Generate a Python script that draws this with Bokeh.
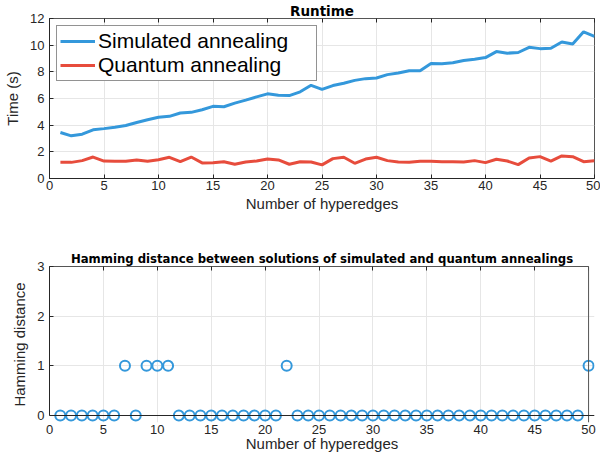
from bokeh.plotting import figure
from bokeh.models import Range1d, LinearAxis, Span, FixedTicker
from bokeh.layouts import column
from bokeh.embed import file_html
from bokeh.resources import INLINE

# ---------------- data ----------------
hyperedges = list(range(1, 51))
simulated = [3.45, 3.20, 3.32, 3.65, 3.74, 3.84, 3.97, 4.20, 4.41, 4.59,
             4.66, 4.91, 4.96, 5.16, 5.41, 5.38, 5.65, 5.88, 6.12, 6.35,
             6.25, 6.22, 6.50, 6.99, 6.69, 6.97, 7.14, 7.36, 7.49, 7.54,
             7.79, 7.91, 8.08, 8.08, 8.63, 8.60, 8.68, 8.85, 8.95, 9.07,
             9.52, 9.40, 9.45, 9.84, 9.74, 9.77, 10.24, 10.09, 11.00, 10.66]
quantum = [1.21, 1.21, 1.34, 1.61, 1.31, 1.29, 1.29, 1.39, 1.29, 1.41,
           1.59, 1.26, 1.61, 1.17, 1.19, 1.26, 1.07, 1.24, 1.31, 1.46,
           1.39, 1.07, 1.26, 1.24, 1.02, 1.49, 1.59, 1.14, 1.46, 1.59,
           1.34, 1.24, 1.21, 1.29, 1.29, 1.26, 1.26, 1.24, 1.34, 1.19,
           1.44, 1.31, 1.04, 1.54, 1.64, 1.31, 1.69, 1.64, 1.26, 1.34]
hamming = [0, 0, 0, 0, 0, 0, 1, 0, 1, 1,
           1, 0, 0, 0, 0, 0, 0, 0, 0, 0,
           0, 1, 0, 0, 0, 0, 0, 0, 0, 0,
           0, 0, 0, 0, 0, 0, 0, 0, 0, 0,
           0, 0, 0, 0, 0, 0, 0, 0, 0, 1]
x_ticks = [0, 5, 10, 15, 20, 25, 30, 35, 40, 45, 50]
runtime_ticks = [0, 2, 4, 6, 8, 10, 12]
hamming_ticks = [0, 1, 2, 3]

BLUE = "#3498db"
RED = "#e74c3c"
TXT = "#262626"
FONT = "Liberation Sans"
TFONT = "DejaVu Sans"
GRID = "#e6e6e6"
SPINE = "#555555"

FIG_W = 600
LEFT = 49


def style_axis(ax):
    ax.major_label_text_font = FONT
    ax.major_label_text_font_size = "13px"
    ax.major_label_text_color = TXT
    ax.axis_label_text_font = FONT
    ax.axis_label_text_font_size = "15px"
    ax.axis_label_text_font_style = "normal"
    ax.axis_label_text_color = TXT
    ax.axis_line_color = TXT
    ax.major_tick_line_color = TXT
    ax.major_tick_in = 4
    ax.major_tick_out = 0
    ax.minor_tick_line_color = None


def blank_axis(ticks):
    ax = LinearAxis(ticker=FixedTicker(ticks=ticks))
    ax.major_label_text_color = None
    ax.major_label_text_alpha = 0
    ax.major_label_text_font_size = "1px"
    ax.major_label_standoff = 0
    ax.major_tick_in = 4
    ax.major_tick_out = 0
    ax.minor_tick_line_color = None
    ax.axis_line_color = SPINE
    ax.major_tick_line_color = TXT
    return ax

# ---------------- top: runtime ----------------
TOP_H = 220
TOP_RIGHT = 6
p1 = figure(width=FIG_W, height=TOP_H, x_range=Range1d(0, 50), y_range=Range1d(0, 12),
            output_backend="svg", toolbar_location=None, title="Runtime",
            min_border_left=LEFT, min_border_right=TOP_RIGHT, min_border_bottom=42,
            min_border_top=0)
p1.title.align = "center"
p1.title.text_font = TFONT
p1.title.text_font_size = "13.5px"
p1.title.text_font_style = "bold"
p1.title.text_color = "#000000"
p1.title.standoff = 0
p1.outline_line_color = SPINE
p1.xaxis.ticker = FixedTicker(ticks=x_ticks)
p1.yaxis.ticker = FixedTicker(ticks=runtime_ticks)
p1.xaxis.axis_label = "Number of hyperedges"
p1.yaxis.axis_label = "Time (s)"
style_axis(p1.xaxis[0])
style_axis(p1.yaxis[0])
p1.yaxis.axis_label_standoff = 6
p1.xaxis.major_label_standoff = 2
p1.xaxis.axis_label_standoff = 2
p1.xgrid.grid_line_color = GRID
p1.ygrid.grid_line_color = GRID
p1.xgrid.ticker = FixedTicker(ticks=x_ticks)
p1.ygrid.ticker = FixedTicker(ticks=runtime_ticks)
p1.add_layout(blank_axis(x_ticks), "above")

p1.line(hyperedges, simulated, line_color=BLUE, line_width=3, legend_label="Simulated annealing")
p1.line(hyperedges, quantum, line_color=RED, line_width=3, legend_label="Quantum annealing")
lg = p1.legend[0]
lg.location = "top_left"
lg.margin = 7
lg.padding = 3
lg.spacing = 0
lg.label_text_font = FONT
lg.label_text_font_size = "21px"
lg.label_text_color = "#000000"
lg.glyph_width = 35
lg.glyph_height = 24
lg.label_height = 24
lg.label_width = 215
lg.label_standoff = 3
lg.border_line_color = TXT
lg.border_line_width = 1
lg.background_fill_alpha = 1

# ---------------- bottom: hamming ----------------
BOT_H = 240
BOT_TOP = 46
BOT_BOTTOM = 38
frame_w_top = FIG_W - LEFT - TOP_RIGHT
frame_w_bot = FIG_W - LEFT
ext_x = 50 * (frame_w_bot - frame_w_top) / frame_w_top
frame_h_bot = BOT_H - BOT_TOP - BOT_BOTTOM
ext_y = 7 * 3 / (frame_h_bot - 7)

p2 = figure(width=FIG_W, height=BOT_H, x_range=Range1d(0, 50 + ext_x), y_range=Range1d(-ext_y, 3),
            output_backend="svg", toolbar_location=None,
            title="Hamming distance between solutions of simulated and quantum annealings",
            min_border_left=LEFT, min_border_right=0, min_border_bottom=BOT_BOTTOM,
            min_border_top=BOT_TOP)
p2.title.align = "center"
p2.title.text_font = TFONT
p2.title.text_font_size = "11.7px"
p2.title.text_font_style = "bold"
p2.title.text_color = "#000000"
p2.title.standoff = 1
p2.outline_line_color = None
p2.xaxis.ticker = FixedTicker(ticks=x_ticks)
p2.yaxis.ticker = FixedTicker(ticks=hamming_ticks)
p2.xaxis.axis_label = "Number of hyperedges"
p2.yaxis.axis_label = "Hamming distance"
style_axis(p2.xaxis[0])
style_axis(p2.yaxis[0])
p2.xaxis.axis_line_color = None
p2.xaxis.major_tick_in = 0
p2.xaxis.major_label_standoff = 2
p2.xaxis.axis_label_standoff = -2
p2.yaxis.bounds = (0, 3)
p2.yaxis.axis_label_standoff = 6
p2.xgrid.grid_line_color = GRID
p2.ygrid.grid_line_color = GRID
p2.xgrid.ticker = FixedTicker(ticks=x_ticks)
p2.ygrid.ticker = FixedTicker(ticks=hamming_ticks)
top_ax = blank_axis(x_ticks)
top_ax.bounds = (0, 50)
p2.add_layout(top_ax, "above")
p2.add_layout(Span(location=50, dimension="height", line_color=SPINE, line_width=1))
p2.add_layout(Span(location=0, dimension="width", line_color=TXT, line_width=1))

p2.scatter(hyperedges, hamming, marker="circle", size=10, fill_color=None,
           line_color=BLUE, line_width=2)

layout = column(p1, p2, spacing=0)
open("out.html", "w").write(file_html(layout, INLINE))
